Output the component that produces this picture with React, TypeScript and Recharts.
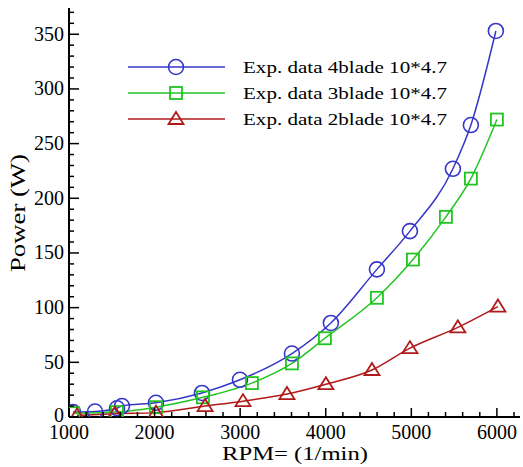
import React from "react";
import { LineChart, Line, XAxis, YAxis } from "recharts";

const rpm4 = [1047, 1304, 1561, 1619, 2016, 2554, 2998, 3605, 4060, 4598, 4984, 5486, 5696, 5988];
const power4 = [4.5, 5, 8, 10, 13, 22, 34, 58, 86, 135, 170, 227, 267, 353];
const rpm3 = [1050, 1560, 2016, 2565, 3137, 3605, 3990, 4598, 5019, 5404, 5696, 6000];
const power3 = [3.5, 4.5, 9, 18, 31, 49, 72, 109, 144, 183, 218, 272];
const rpm2 = [1093, 1537, 2016, 2590, 3033, 3547, 4002, 4540, 4984, 5544, 6012];
const power2 = [1.5, 3, 4, 10, 14.5, 21, 30, 43, 63, 82, 101];

const xTicks: number[] = [];
for (let v = 1000; v <= 6200; v += 200) xTicks.push(v);
const yTicks: number[] = [];
for (let v = 0; v <= 370; v += 10) yTicks.push(v);
const xLabels = [1000, 2000, 3000, 4000, 5000, 6000];
const yLabels = [0, 50, 100, 150, 200, 250, 300, 350];

const xTitle = "RPM= (1/min)";
const yTitle = "Power (W)";
const seriesNames = [
  "Exp. data 4blade 10*4.7",
  "Exp. data 3blade 10*4.7",
  "Exp. data 2blade 10*4.7",
];
const BLUE = "#3636c8";
const GREEN = "#22c422";
const RED = "#b01a1a";
const colors = [BLUE, GREEN, RED];
const shapes = ["circle", "square", "triangle"];

const toPts = (xs: number[], ys: number[]) => xs.map((x, i) => ({ rpm: x, p: ys[i] }));
const data4 = toPts(rpm4, power4);
const data3 = toPts(rpm3, power3);
const data2 = toPts(rpm2, power2);

const FONT = "'Liberation Serif', 'Times New Roman', serif";

function Marker({ shape, cx, cy, color }: { shape: string; cx: number; cy: number; color: string }) {
  if (shape === "circle")
    return <circle cx={cx} cy={cy} r={7.5} fill="none" stroke={color} strokeWidth={1.6} />;
  if (shape === "square")
    return <rect x={cx - 6} y={cy - 6} width={12} height={12} fill="none" stroke={color} strokeWidth={1.8} />;
  return (
    <polygon
      points={`${cx},${cy - 7} ${cx - 7.5},${cy + 5} ${cx + 7.5},${cy + 5}`}
      fill="none"
      stroke={color}
      strokeWidth={1.8}
    />
  );
}

const makeDot = (shape: string, color: string) => (props: any) => {
  const { cx, cy, index } = props;
  if (cx == null || cy == null) return <g key={index} />;
  return <Marker key={index} shape={shape} cx={cx} cy={cy} color={color} />;
};

const YTick = (props: any) => {
  const { x, y, payload } = props;
  const v = payload.value;
  const major = yLabels.includes(v);
  return (
    <g>
      <line x1={x} y1={y} x2={x + (major ? 10 : 5)} y2={y} stroke="#000" strokeWidth={1.5} />
      {major && (
        <text x={x - 5} y={y} dy={v === 0 ? 5 : 6.5} textAnchor="end" fontFamily={FONT} fontSize={20} fill="#000">
          {v}
        </text>
      )}
    </g>
  );
};

const XTick = (props: any) => {
  const { x, y, payload } = props;
  const v = payload.value;
  const major = xLabels.includes(v);
  return (
    <g>
      <line x1={x} y1={y} x2={x} y2={y - (major ? 9 : 5)} stroke="#000" strokeWidth={1.5} />
      {major && (
        <text x={x} y={y} dy={21.5} textAnchor="middle" fontFamily={FONT} fontSize={20} fill="#000">
          {v}
        </text>
      )}
    </g>
  );
};

const Overlay = () => (
  <svg width={523} height={467} style={{ position: "absolute", left: 0, top: 0, pointerEvents: "none" }}>
    {seriesNames.map((name, i) => {
      const y = 67 + i * 26;
      return (
        <g key={name}>
          <line x1={128} y1={y} x2={225} y2={y} stroke={colors[i]} strokeWidth={1.5} />
          <Marker shape={shapes[i]} cx={176} cy={y} color={colors[i]} />
          <text
            x={243}
            y={y}
            dy={6}
            fontFamily={FONT}
            fontSize={17.5}
            fill="#000"
            textLength={204}
            lengthAdjust="spacingAndGlyphs"
          >
            {name}
          </text>
        </g>
      );
    })}
    <text
      x={295}
      y={460}
      textAnchor="middle"
      fontFamily={FONT}
      fontSize={19.5}
      fill="#000"
      textLength={146}
      lengthAdjust="spacingAndGlyphs"
    >
      {xTitle}
    </text>
    <text
      x={0}
      y={0}
      transform="translate(25 213) rotate(-90)"
      textAnchor="middle"
      fontFamily={FONT}
      fontSize={20}
      fill="#000"
      textLength={118}
      lengthAdjust="spacingAndGlyphs"
    >
      {yTitle}
    </text>
  </svg>
);

export default function App() {
  return (
    <div style={{ position: "absolute", left: 0, top: 0, width: 523, height: 467, background: "#fff" }}>
      <LineChart
        width={523}
        height={467}
        margin={{ top: 8, right: 3, bottom: 0, left: 0 }}
        style={{ fontFamily: FONT }}
      >
        <XAxis
          dataKey="rpm"
          type="number"
          domain={[1000, 6270]}
          ticks={xTicks}
          allowDataOverflow
          tickSize={0}
          tickMargin={0}
          tickLine={false}
          tick={<XTick />}
          axisLine={{ stroke: "#000", strokeWidth: 2 }}
          height={50}
          interval={0}
        />
        <YAxis
          type="number"
          domain={[0, 374]}
          ticks={yTicks}
          allowDataOverflow
          tickSize={0}
          tickMargin={0}
          tickLine={false}
          tick={<YTick />}
          axisLine={{ stroke: "#000", strokeWidth: 2 }}
          width={69}
          interval={0}
        />
        <Line
          data={data4}
          dataKey="p"
          type="monotone"
          stroke={BLUE}
          strokeWidth={1.5}
          dot={makeDot("circle", BLUE)}
          isAnimationActive={false}
          name={seriesNames[0]}
        />
        <Line
          data={data3}
          dataKey="p"
          type="monotone"
          stroke={GREEN}
          strokeWidth={1.5}
          dot={makeDot("square", GREEN)}
          isAnimationActive={false}
          name={seriesNames[1]}
        />
        <Line
          data={data2}
          dataKey="p"
          type="monotone"
          stroke={RED}
          strokeWidth={1.5}
          dot={makeDot("triangle", RED)}
          isAnimationActive={false}
          name={seriesNames[2]}
        />
      </LineChart>
      <Overlay />
    </div>
  );
}
